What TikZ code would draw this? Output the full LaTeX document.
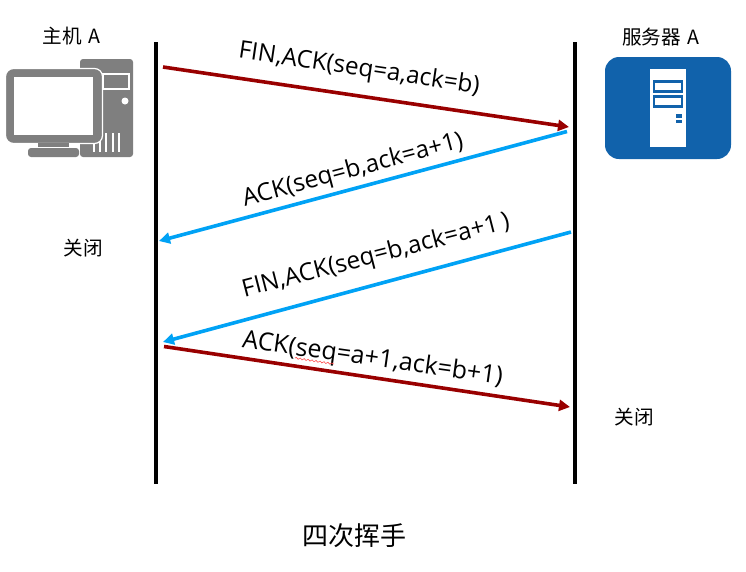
\documentclass[tikz,border=0pt]{standalone}
\usepackage{fontspec}
\setmainfont{Open Sans}
\newfontfamily\cjkf{Noto Sans CJK SC}
\usetikzlibrary{arrows.meta,decorations.pathmorphing}
\definecolor{darkred}{HTML}{990000}
\definecolor{skyb}{HTML}{00A2F5}
\definecolor{pcgray}{HTML}{7F7F7F}
\definecolor{srvblue}{HTML}{1162AB}
\tikzset{
  life/.style={line width=3.7pt,black},
  msgred/.style={line width=3.6pt,darkred,-{Triangle[length=11pt,width=11pt]}},
  msgblue/.style={line width=3.6pt,skyb,-{Triangle[length=11pt,width=11pt]}},
  msglabel/.style={font=\fontsize{24.3}{26}\selectfont,inner sep=0pt,text=black},
  cnlabel/.style={font=\cjkf\fontsize{19.6}{22}\selectfont,inner sep=0pt,text=black},
  pcfill/.style={fill=pcgray,draw=none},
  vent/.style={draw=white,line width=1.3pt},
}
\begin{document}
\begin{tikzpicture}[x=1pt,y=-1pt]
\useasboundingbox (0,0) rectangle (746,571);
% computer icon
\fill[pcfill,rounded corners=3pt] (80,59) rectangle (133,157);
\draw[white,line width=1.2pt] (103,74) rectangle (129,89);
\fill[white] (125,101) circle (3.5);
\foreach \x in {94,100,106,113,119} \draw[vent] (\x,133) -- (\x,152);
\filldraw[fill=pcgray,draw=white,line width=1.2pt,rounded corners=8pt] (5.5,68.5) rectangle (102.5,143.5);
\fill[white] (14,77) rectangle (93,135);
\fill[pcfill] (38,143) rectangle (69,147);
\fill[pcfill,rounded corners=3pt] (28,157) -- (28,148) -- (79,148) -- (79,157) -- cycle;
% server icon
\fill[srvblue,rounded corners=14pt] (605,57) rectangle (731,159);
\fill[white] (650,69) rectangle (686,147);
\draw[srvblue,line width=2.6pt] (654,81.5) rectangle (682,91.5);
\draw[srvblue,line width=2.6pt] (654,96.5) rectangle (682,106.5);
\fill[srvblue] (676,114) rectangle (682,117.5);
\fill[srvblue] (676,119.5) rectangle (682,123);
% lifelines
\coordinate (lt) at (156,42); \coordinate (lb) at (156,484);
\coordinate (rt) at (575,42); \coordinate (rb) at (575,484);
\draw[life] (lt) -- (lb);
\draw[life] (rt) -- (rb);
% messages
\coordinate (m1a) at (163,67); \coordinate (m1b) at (569,127);
\coordinate (m2a) at (567,131.5); \coordinate (m2b) at (159,241);
\coordinate (m3a) at (571,232); \coordinate (m3b) at (163,342);
\coordinate (m4a) at (164,346.5); \coordinate (m4b) at (570,407);
\draw[msgred] (m1a) -- (m1b);
\draw[msgblue] (m2a) -- (m2b);
\draw[msgblue] (m3a) -- (m3b);
\draw[msgred] (m4a) -- (m4b);
% labels
\node[msglabel,rotate=-8.5] (t1) at (359,69.5) {FIN,ACK(seq=a,ack=b)};
\node[msglabel,rotate=15] (t2) at (353,170.5) {ACK(seq=b,ack=a+1)};
\node[msglabel,rotate=14.5] (t3) at (376,256.5) {FIN,ACK(seq=b,ack=a+1\,)};
\node[msglabel,rotate=-8,font=\fontsize{25}{26}\selectfont] (t4) at (372.5,359.5) {ACK(seq=a+1,ack=b+1)};
\coordinate (sq1) at (295,358); \coordinate (sq2) at (334,364);
\draw[red!70!white,line width=0.6pt,decorate,decoration={snake,amplitude=0.8pt,segment length=4pt}] (sq1) -- (sq2);
\node[cnlabel] (host) at (71.5,36.5) {主机\hspace{2.5pt} A};
\node[cnlabel] (srv) at (661,37.5) {服务器\hspace{2.5pt} A};
\node[cnlabel] (c1) at (83.5,248) {关闭};
\node[cnlabel] (c2) at (634,417) {关闭};
\node[font=\cjkf\fontsize{26}{28}\selectfont,inner sep=0pt] (title) at (354.5,536) {四次挥手};
\end{tikzpicture}
\end{document}
